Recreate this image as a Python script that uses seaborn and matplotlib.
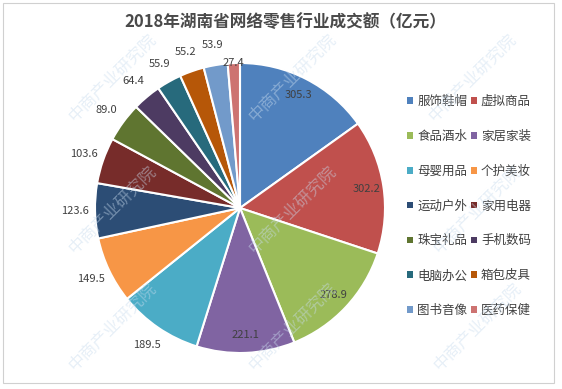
import matplotlib.pyplot as plt
import seaborn as sns
import numpy as np
from matplotlib.patches import Patch, Rectangle

# 数据
categories = ['服饰鞋帽', '虚拟商品', '食品酒水', '家居家装', '母婴用品', '个护美妆', '运动户外',
              '家用电器', '珠宝礼品', '手机数码', '电脑办公', '箱包皮具', '图书音像', '医药保健']
values = [305.3, 302.2, 278.9, 221.1, 189.5, 149.5, 123.6, 103.6, 89.0, 64.4, 55.9, 55.2, 53.9, 27.4]
colors = ['#4F81BD', '#C0504D', '#9BBB59', '#8064A2', '#4BACC6', '#F79646', '#2C4D75',
          '#772C2A', '#5F7530', '#4D3B62', '#276A7C', '#B65708', '#729ACA', '#CD7371']
title = '2018年湖南省网络零售行业成交额（亿元）'

sns.set_theme(style='white')
plt.rcParams['font.family'] = ['Noto Sans CJK SC', 'DejaVu Sans']

fig = plt.figure(figsize=(5.62, 3.89), dpi=100)

# 边框
fig.patches.append(Rectangle((3 / 562, 6 / 389), 551 / 562, 380 / 389, transform=fig.transFigure,
                             fill=False, edgecolor='#d0d0d0', linewidth=0.8))

# 水印（淡色）
for wx, wy in [(0.2, 0.8), (0.52, 0.8), (0.84, 0.8), (0.2, 0.46), (0.52, 0.46),
               (0.85, 0.46), (0.2, 0.16), (0.52, 0.16), (0.85, 0.16)]:
    fig.text(wx, wy, '中商产业研究院', rotation=45, fontsize=12, color='#c9dcee', alpha=0.45,
             ha='center', va='center', zorder=10)

ax = fig.add_axes([95 / 562, 36 / 389, 290 / 562, 290 / 389])
wedges, _ = ax.pie(values, colors=colors, startangle=90, counterclock=False,
                   wedgeprops=dict(edgecolor='white', linewidth=1.5))
ax.set_xlim(-1, 1)
ax.set_ylim(-1, 1)

# 数据标签
for w, v in zip(wedges, values):
    ang = np.deg2rad((w.theta1 + w.theta2) / 2)
    if v > 200:
        d = 0.88
    elif v < 30:
        d = 1.0
    else:
        d = 1.14
    ax.text(d * np.cos(ang), d * np.sin(ang), f'{v:.1f}', ha='center', va='center',
            fontsize=8, color='#404040')

fig.text(285 / 562, 1 - 22 / 389, title, ha='center', va='center', fontsize=12,
         fontweight='bold', color='#4a4a4a')

handles = [Patch(facecolor=c, edgecolor='none') for c in colors]
order = list(range(0, len(categories), 2)) + list(range(1, len(categories), 2))
fig.legend([handles[i] for i in order], [categories[i] for i in order], ncol=2,
           loc='center', bbox_to_anchor=(469 / 562, 1 - 206 / 389), frameon=False,
           fontsize=9, labelspacing=1.75, handlelength=0.45, handleheight=0.45,
           handletextpad=0.35, columnspacing=0.3, labelcolor='#404040')

plt.savefig('out.png', dpi=100)
